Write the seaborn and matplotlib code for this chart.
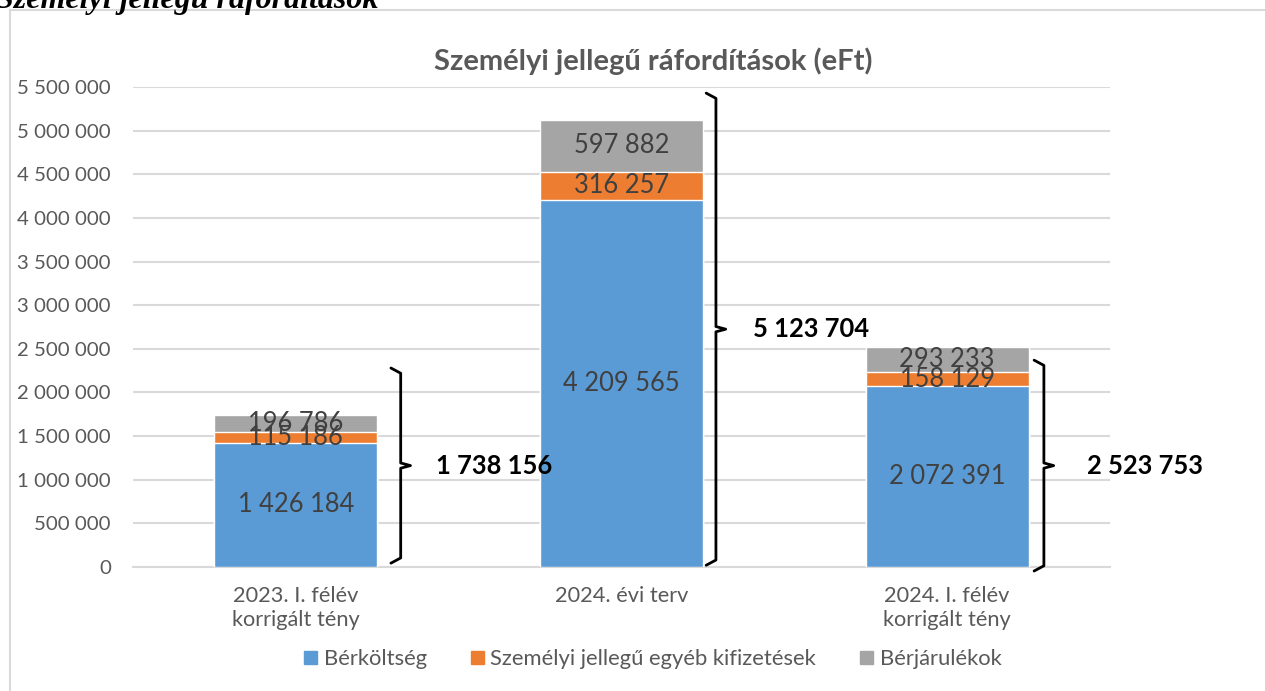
import matplotlib
matplotlib.use("Agg")
import matplotlib.pyplot as plt
import matplotlib.patches as mpatches
from matplotlib.ticker import FuncFormatter, MultipleLocator
import seaborn as sns

# adatok (eFt)
categories = ["2023. I. félév\nkorrigált tény", "2024. évi terv", "2024. I. félév\nkorrigált tény"]
berkoltseg = [1426184, 4209565, 2072391]
egyeb = [115186, 316257, 158129]
berjarulek = [196786, 597882, 293233]
osszesen = [1738156, 5123704, 2523753]
series_names = ["Bérköltség", "Személyi jellegű egyéb kifizetések", "Bérjárulékok"]
colors = ["#5B9BD5", "#ED7D31", "#A5A5A5"]

# kapcsos zárójelek (elhelyezés)
brace_x = [0.322, 1.29, 2.297]
brace_lo = [44000, 20000, -46000]
brace_hi = [2280000, 5430000, 2370000]
label_x = [0.43, 1.405, 2.43]

sns.set_theme(style="white")
plt.rcParams["font.family"] = ["Lato", "DejaVu Sans"]

fig = plt.figure(figsize=(12.65, 6.91), dpi=100)
ax = fig.add_axes([133 / 1265, 124 / 691, 977 / 1265, 480 / 691])

def fmt(v, pos=None):
    return f"{int(round(v)):,}".replace(",", " ")

# halmozott oszlopok: teljes, majd fedő rétegek
lvl2 = [a + b for a, b in zip(berkoltseg, egyeb)]
lvl3 = [a + b + c for a, b, c in zip(berkoltseg, egyeb, berjarulek)]
sns.barplot(x=categories, y=lvl3, color=colors[2], width=0.5, saturation=1, ax=ax, zorder=2)
sns.barplot(x=categories, y=lvl2, color=colors[1], width=0.5, saturation=1, ax=ax, zorder=3)
sns.barplot(x=categories, y=berkoltseg, color=colors[0], width=0.5, saturation=1, ax=ax, zorder=4)

# szegmens címkék
for i in range(len(categories)):
    bottoms = [0, berkoltseg[i], lvl2[i]]
    vals = [berkoltseg[i], egyeb[i], berjarulek[i]]
    for b, v in zip(bottoms, vals):
        ax.text(i, b + v / 2, fmt(v), ha="center", va="center", fontsize=18.4,
                color="#404040", zorder=6)

# kapcsos zárójelek és összegek
hw = 0.03
d = 60000
for i in range(len(categories)):
    x0 = brace_x[i]
    lo, hi = brace_lo[i], brace_hi[i]
    mid = (lo + hi) / 2
    xs = [x0 - hw, x0, x0, x0 + hw, x0, x0, x0 - hw]
    ys = [hi, hi - d, mid + d / 2, mid, mid - d / 2, lo + d, lo]
    ax.plot(xs, ys, color="black", lw=2, clip_on=False, zorder=7,
            solid_joinstyle="round", solid_capstyle="round")
    ax.text(label_x[i], mid, fmt(osszesen[i]), ha="left", va="center",
            fontsize=18.4, fontweight="bold", color="black", clip_on=False, zorder=8)

ax.set_xlim(-0.5, 2.5)
ax.set_ylim(0, 5500000)
ax.yaxis.set_major_locator(MultipleLocator(500000))
ax.yaxis.set_major_formatter(FuncFormatter(fmt))
ax.grid(axis="y", color="#D9D9D9", lw=1.5, zorder=0)
ax.set_axisbelow(True)
for s in ["top", "right", "left"]:
    ax.spines[s].set_visible(False)
ax.spines["bottom"].set_color("#D9D9D9")
ax.spines["bottom"].set_linewidth(1.5)
ax.tick_params(axis="y", length=0, pad=16, labelsize=14.7, labelcolor="#595959")
ax.tick_params(axis="x", length=0, pad=14, labelsize=15.7, labelcolor="#595959")
ax.set_xlabel("")
ax.set_ylabel("")

ax.set_title("Személyi jellegű ráfordítások (eFt)", fontsize=21, fontweight="bold",
             color="#595959", pad=12, x=0.533)

handles = [mpatches.Patch(color=c, label=n) for c, n in zip(colors, series_names)]
fig.legend(handles=handles, loc="center", bbox_to_anchor=(0.516, 0.046), ncol=3,
           frameon=False, fontsize=15.8, handlelength=0.6, handleheight=0.6,
           handletextpad=0.3, columnspacing=2.0, labelcolor="#595959")

# külső keret és levágott fejléc
fig.patches.append(mpatches.Rectangle((10 / 1265, -0.1), 1.2, 1 - 10 / 691 + 0.1,
                                      transform=fig.transFigure, fill=False,
                                      edgecolor="#D9D9D9", lw=1.5))
fig.text(-0.003, 1 - 8 / 691, "Személyi jellegű ráfordítások", fontsize=23,
         fontweight="bold", fontstyle="italic", family=["Liberation Serif"],
         va="baseline", ha="left", color="black")

fig.savefig("out.png", dpi=100)
